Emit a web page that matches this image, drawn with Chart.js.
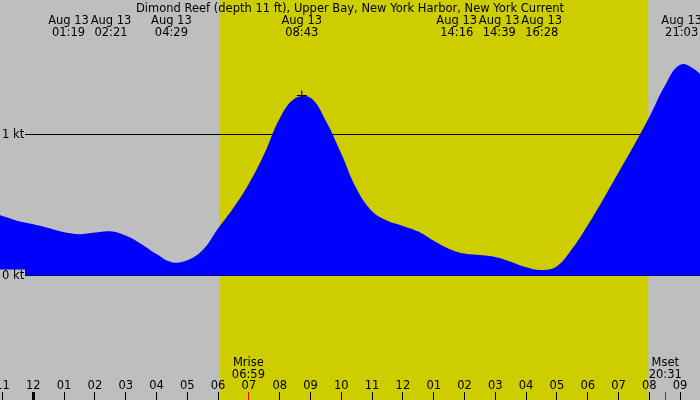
<!DOCTYPE html>
<html>
<head>
<meta charset="utf-8">
<title>Dimond Reef current</title>
<script src="https://cdn.jsdelivr.net/npm/chart.js@4.4.0/dist/chart.umd.min.js"></script>
<style>
  html, body { margin: 0; padding: 0; background: #bebebe; overflow: hidden; }
  canvas { display: block; }
</style>
</head>
<body>
<canvas id="tideChart" width="700" height="400"></canvas>
<script>
// current speed (kt), every half hour from 22:30 Aug 12
const hours = [-1.5, -1, -0.5, 0, 0.5, 1, 1.5, 2, 2.5, 3, 3.5, 4, 4.5, 5, 5.5,
  6, 6.5, 7, 7.5, 8, 8.5, 9, 9.5, 10, 10.5, 11, 11.5, 12, 12.5, 13, 13.5,
  14, 14.5, 15, 15.5, 16, 16.5, 17, 17.5, 18, 18.5, 19, 19.5, 20, 20.5,
  21, 21.5, 22];
const knots = [0.45, 0.42, 0.385, 0.362, 0.335, 0.305, 0.292, 0.303, 0.312, 0.282, 0.223, 0.152, 0.094, 0.108, 0.18,
  0.332, 0.478, 0.648, 0.86, 1.11, 1.252, 1.256, 1.092, 0.861, 0.611, 0.454, 0.386, 0.35, 0.31, 0.245, 0.188,
  0.155, 0.144, 0.13, 0.097, 0.058, 0.039, 0.066, 0.19, 0.355, 0.537, 0.728, 0.919, 1.12, 1.34,
  1.49, 1.452, 1.33];

const title = 'Dimond Reef (depth 11 ft), Upper Bay, New York Harbor, New York Current';
const eventDate = 'Aug 13';
const eventTimes = ['01:19', '02:21', '04:29', '08:43', '14:16', '14:39', '16:28', '21:03'];
const markTime = '08:43';
const markKnots = 1.272;

const sunrise = '06:03';
const sunset = '19:58';
const moonLabels = ['Mrise', 'Mset'];
const moonTimes = ['06:59', '20:31'];

const tickHours = [-1, 0, 1, 2, 3, 4, 5, 6, 7, 8, 9, 10, 11, 12, 13, 14, 15, 16, 17, 18, 19, 20, 21];
const tickLabels = ['11', '12', '01', '02', '03', '04', '05', '06', '07', '08', '09', '10', '11',
  '12', '01', '02', '03', '04', '05', '06', '07', '08', '09'];
const levelValues = [1, 0];
const levelLabels = ['1 kt', '0 kt'];

function toHours(t) {
  const p = t.split(':');
  return parseInt(p[0], 10) + parseInt(p[1], 10) / 60;
}

const GRAY = '#bebebe';
const YELLOW = '#cdcd00';
const FONT = '11.5px "DejaVu Sans", sans-serif';

const backdrop = {
  id: 'backdrop',
  beforeDatasetsDraw(chart) {
    const ctx = chart.ctx;
    const xs = chart.scales.x, ys = chart.scales.y;
    ctx.save();
    ctx.fillStyle = GRAY;
    ctx.fillRect(0, 0, chart.width, chart.height);
    const x0 = xs.getPixelForValue(toHours(sunrise));
    const x1 = xs.getPixelForValue(toHours(sunset));
    ctx.fillStyle = YELLOW;
    ctx.fillRect(x0, 0, x1 - x0, chart.height);
    ctx.strokeStyle = '#000';
    ctx.lineWidth = 1;
    levelValues.forEach(v => {
      const y = Math.round(ys.getPixelForValue(v)) + 0.5;
      ctx.beginPath();
      ctx.moveTo(25, y);
      ctx.lineTo(chart.width, y);
      ctx.stroke();
    });
    ctx.restore();
  }
};

const annotations = {
  id: 'annotations',
  afterDatasetsDraw(chart) {
    const ctx = chart.ctx;
    const xs = chart.scales.x, ys = chart.scales.y;
    ctx.save();
    ctx.font = FONT;
    ctx.fillStyle = '#000';
    ctx.textBaseline = 'alphabetic';

    // level labels on the left
    ctx.textAlign = 'left';
    levelValues.forEach((v, i) => {
      const y = ys.getPixelForValue(v);
      ctx.fillStyle = GRAY;
      ctx.fillRect(0, y - 6, 25, 13);
      ctx.fillStyle = '#000';
      ctx.fillText(levelLabels[i], 2, y + 4);
    });

    // title
    ctx.textAlign = 'center';
    ctx.fillText(title, chart.width / 2, 12);

    // event labels, spread apart where they would overlap
    const gap = 42.5;
    let groups = eventTimes.map(t => ({ items: [t], xs: [xs.getPixelForValue(toHours(t))] }));
    const place = g => {
      const m = g.xs.reduce((a, b) => a + b, 0) / g.xs.length;
      return g.xs.map((_, i) => m + (i - (g.xs.length - 1) / 2) * gap);
    };
    let merged = true;
    while (merged) {
      merged = false;
      for (let i = 0; i < groups.length - 1; i++) {
        const a = place(groups[i]), b = place(groups[i + 1]);
        if (a[a.length - 1] + gap > b[0]) {
          groups[i] = { items: groups[i].items.concat(groups[i + 1].items), xs: groups[i].xs.concat(groups[i + 1].xs) };
          groups.splice(i + 1, 1);
          merged = true;
          break;
        }
      }
    }
    groups.forEach(g => {
      place(g).forEach((x, i) => {
        ctx.fillText(eventDate, x, 24);
        ctx.fillText(g.items[i], x, 36);
      });
    });

    // moon labels
    moonTimes.forEach((t, i) => {
      const x = xs.getPixelForValue(toHours(t));
      ctx.fillText(moonLabels[i], x, 366);
      ctx.fillText(t, x, 378);
    });

    // hour ticks and labels
    tickHours.forEach((h, i) => {
      const x = xs.getPixelForValue(h);
      ctx.fillStyle = '#000';
      ctx.fillText(tickLabels[i], x, 389);
      const w = h === 0 ? 3 : 1;
      ctx.fillRect(Math.round(x - w / 2), 392, w, 8);
    });
    ctx.fillStyle = '#ff0000';
    moonTimes.forEach(t => {
      const x = xs.getPixelForValue(toHours(t));
      ctx.fillRect(Math.round(x - 0.5), 392, 1, 8);
    });
    ctx.restore();
  }
};

new Chart(document.getElementById('tideChart'), {
  type: 'line',
  data: {
    datasets: [
      {
        type: 'scatter',
        data: [{ x: toHours(markTime), y: markKnots }],
        pointStyle: 'cross',
        pointRadius: 5,
        borderColor: '#000',
        backgroundColor: '#000',
        borderWidth: 1,
        order: 0
      },
      {
        data: hours.map((h, i) => ({ x: h, y: knots[i] })),
        borderColor: 'rgba(0,0,0,0)',
        borderWidth: 0,
        backgroundColor: '#0000ff',
        fill: 'origin',
        pointRadius: 0,
        tension: 0.4,
        order: 1
      }
    ]
  },
  options: {
    responsive: false,
    animation: false,
    devicePixelRatio: 1,
    layout: { padding: 0, autoPadding: false },
    plugins: { legend: { display: false }, tooltip: { enabled: false } },
    scales: {
      x: { type: 'linear', min: -1.081, max: 21.646, display: false },
      y: { type: 'linear', min: -0.88, max: 1.947, display: false }
    }
  },
  plugins: [backdrop, annotations]
});
</script>
</body>
</html>
